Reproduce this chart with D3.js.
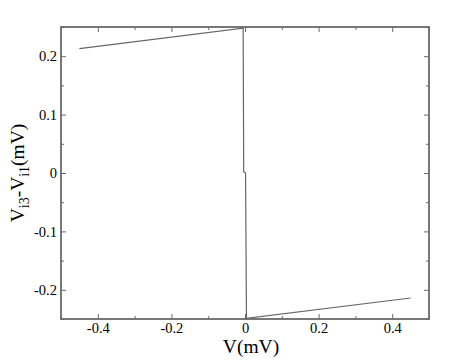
<!DOCTYPE html>
<html>
<head>
<meta charset="utf-8">
<script src="https://cdn.jsdelivr.net/npm/d3@7"></script>
<style>
  body { margin: 0; background: #fff; }
  svg text { font-family: "Liberation Serif", "DejaVu Serif", serif !important; }
</style>
</head>
<body>
<script>
// hysteresis-like trace
const vValues = [-0.45, -0.005, -0.0035, 0.0015, 0.004, 0.45];
const dvValues = [0.213, 0.248, 0.002, 0.0, -0.249, -0.214];

const xMajor = [-0.4, -0.2, 0, 0.2, 0.4];
const xMinor = [-0.5, -0.3, -0.1, 0.1, 0.3, 0.5];
const yMajor = [-0.2, -0.1, 0, 0.1, 0.2];
const yMinor = [-0.25, -0.15, -0.05, 0.05, 0.15, 0.25];

const width = 474, height = 360;
const margin = { left: 61, right: 45, top: 27, bottom: 41 };
const serif = 'Liberation Serif';

const svg = d3.select('body').append('svg')
    .attr('width', width).attr('height', height);

const x = d3.scaleLinear().domain([-0.5, 0.5]).range([margin.left, width - margin.right]);
const y = d3.scaleLinear().domain([-0.25, 0.25]).range([height - margin.bottom, margin.top]);

const fmt = d => d === 0 ? '0' : d3.format('.1f')(d).replace('−', '-');
const axisColor = '#6a6a6a';

function styleAxis(g) {
    g.attr('font-family', serif);
    g.select('.domain').remove();
    g.selectAll('.tick line').attr('stroke', axisColor).attr('stroke-width', 1);
    g.selectAll('.tick text').attr('font-size', 14.5).attr('fill', '#000')
        .style('font-family', serif);
}

// bottom
svg.append('g').attr('transform', `translate(0,${y.range()[0]})`)
    .call(d3.axisBottom(x).tickValues(xMajor).tickSize(-5).tickPadding(4).tickFormat(fmt))
    .call(styleAxis);
svg.append('g').attr('transform', `translate(0,${y.range()[0]})`)
    .call(d3.axisBottom(x).tickValues(xMinor).tickSize(-3).tickFormat(''))
    .call(styleAxis);
// top
svg.append('g').attr('transform', `translate(0,${y.range()[1]})`)
    .call(d3.axisTop(x).tickValues(xMajor).tickSize(-5).tickFormat(''))
    .call(styleAxis);
svg.append('g').attr('transform', `translate(0,${y.range()[1]})`)
    .call(d3.axisTop(x).tickValues(xMinor).tickSize(-3).tickFormat(''))
    .call(styleAxis);
// left
svg.append('g').attr('transform', `translate(${x.range()[0]},0)`)
    .call(d3.axisLeft(y).tickValues(yMajor).tickSize(-5).tickPadding(4).tickFormat(fmt))
    .call(styleAxis);
svg.append('g').attr('transform', `translate(${x.range()[0]},0)`)
    .call(d3.axisLeft(y).tickValues(yMinor).tickSize(-3).tickFormat(''))
    .call(styleAxis);
// right
svg.append('g').attr('transform', `translate(${x.range()[1]},0)`)
    .call(d3.axisRight(y).tickValues(yMajor).tickSize(-5).tickFormat(''))
    .call(styleAxis);
svg.append('g').attr('transform', `translate(${x.range()[1]},0)`)
    .call(d3.axisRight(y).tickValues(yMinor).tickSize(-3).tickFormat(''))
    .call(styleAxis);

// frame
svg.append('rect')
    .attr('x', x.range()[0]).attr('y', y.range()[1])
    .attr('width', x.range()[1] - x.range()[0])
    .attr('height', y.range()[0] - y.range()[1])
    .attr('fill', 'none').attr('stroke', axisColor).attr('stroke-width', 1.8);

// trace
const line = d3.line().x((d, i) => x(vValues[i])).y(d => y(d));
svg.append('path')
    .attr('d', line(dvValues))
    .attr('fill', 'none').attr('stroke', '#666').attr('stroke-width', 1.2);

// axis titles
svg.append('text')
    .attr('x', (x.range()[0] + x.range()[1]) / 2 + 6).attr('y', 353)
    .attr('text-anchor', 'middle').attr('font-size', 19.5)
    .text('V(mV)');

const yl = svg.append('text')
    .attr('transform', `translate(24,${(y.range()[0] + y.range()[1]) / 2}) rotate(-90)`)
    .attr('text-anchor', 'middle').attr('font-size', 19.5);
yl.append('tspan').text('V');
yl.append('tspan').attr('font-size', 14).attr('dy', 5).text('i3');
yl.append('tspan').attr('dy', -5).text('-V');
yl.append('tspan').attr('font-size', 14).attr('dy', 5).text('i1');
yl.append('tspan').attr('dy', -5).text('(mV)');
</script>
</body>
</html>
